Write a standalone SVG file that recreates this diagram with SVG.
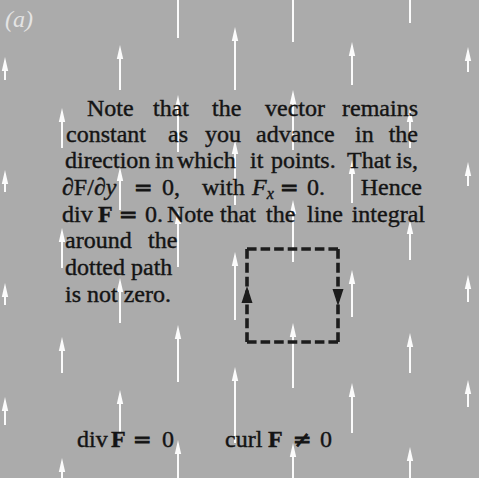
<svg xmlns="http://www.w3.org/2000/svg" width="479" height="478" viewBox="0 0 479 478">
<style>
.t{font-family:"Liberation Serif","Times New Roman",serif;font-size:24px;fill:#141414;stroke:#141414;stroke-width:0.4}
.b{font-weight:bold}
.i{font-style:italic}
.eq{font-family:"DejaVu Serif","Liberation Serif",serif;font-size:22px;stroke-width:1}
.f line,.f path{stroke:#fbfbfb;stroke-width:2;fill:none}
.box path{stroke:#1c1c1c;stroke-width:3.6;fill:none;stroke-linecap:butt}
</style>
<defs>
<marker id="ah" markerUnits="userSpaceOnUse" markerWidth="14" markerHeight="8" viewBox="0 0 14 8" refX="4" refY="4" orient="auto">
<path d="M0,0.8 L14,4 L0,7.2 Z" fill="#fbfbfb"/>
</marker>
</defs>
<rect id="background" x="0" y="0" width="479" height="478" fill="#ababab"/>
<g id="field" class="f" marker-end="url(#ah)">
<path d="M5,80V67"/><path d="M5,192V180"/><path d="M5,305V293"/><path d="M5,425V407"/>
<path d="M62,148V118"/><path d="M62,268V238"/><path d="M62,373V347"/><path d="M62,496V468"/>
<path d="M120,90V55"/><path d="M120,210V177"/><path d="M120,323V288"/><path d="M120,433V400"/>
<path d="M178,38V-10"/><path d="M178,152V105"/><path d="M178,267V220"/><path d="M178,382V335"/><path d="M178,497V450"/>
<path d="M235,90V37"/><path d="M235,205V150"/><path d="M235,320V262"/><path d="M235,443V377"/>
<path d="M293,42V-10"/><path d="M293,150V100"/><path d="M293,262V210"/><path d="M293,388V333"/><path d="M293,505V453"/>
<path d="M352,85V52"/><path d="M352,203V170"/><path d="M352,317V280"/><path d="M352,433V393"/>
<path d="M410,23V-7"/><path d="M410,148V118"/><path d="M410,260V230"/><path d="M410,373V343"/><path d="M410,487V457"/>
<path d="M468,72V57"/><path d="M468,186V172"/><path d="M468,302V285"/><path d="M468,407V390"/>
</g>
<g id="label-a">
<text x="5" y="27" style="font-family:'Liberation Serif',serif;font-style:italic;fill:#e4e4e4;font-size:24px">(a)</text>
</g>
<g id="note-text" class="t">
<text y="116"><tspan x="87">Note</tspan><tspan x="153">that</tspan><tspan x="212">the</tspan><tspan x="265">vector</tspan></text>
<text y="116" x="418" text-anchor="end">remains</text>
<text y="142"><tspan x="66">constant</tspan><tspan x="168">as</tspan><tspan x="205">you</tspan><tspan x="256">advance</tspan><tspan x="355">in</tspan></text>
<text y="142" x="418" text-anchor="end">the</text>
<text y="168"><tspan x="65">direction</tspan><tspan x="155">in</tspan><tspan x="177">which</tspan><tspan x="250">it</tspan><tspan x="271">points.</tspan><tspan x="347">That</tspan></text>
<text y="168" x="418" text-anchor="end">is,</text>
<text y="195"><tspan x="62">∂F/∂</tspan><tspan class="i">y</tspan><tspan x="134" class="eq">=</tspan><tspan x="162">0,</tspan><tspan x="202">with</tspan><tspan x="252" class="i">F</tspan><tspan class="i" font-size="16" dy="4">x</tspan><tspan x="280" dy="-4" class="eq">=</tspan><tspan x="307">0.</tspan></text>
<text y="195" x="422" text-anchor="end">Hence</text>
<text y="222"><tspan x="62">div</tspan><tspan x="98" class="b">F</tspan><tspan x="119" class="eq">=</tspan><tspan x="145">0.</tspan><tspan x="167">Note</tspan><tspan x="220">that</tspan><tspan x="266">the</tspan><tspan x="307">line</tspan></text>
<text y="222" x="425" text-anchor="end">integral</text>
<text y="248"><tspan x="65">around</tspan><tspan x="148">the</tspan></text>
<text y="275" x="65">dotted path</text>
<text y="302" x="65">is not zero.</text>
</g>
<g id="path-loop" class="box">
<path d="M247,249H338" stroke-dasharray="9.57 4"/>
<path d="M338,249V342" stroke-dasharray="9.86 4"/>
<path d="M338,342H247" stroke-dasharray="9.57 4"/>
<path d="M247,342V249" stroke-dasharray="9.86 4"/>
<polygon points="247,286 252.5,303 241.5,303" fill="#1c1c1c"/>
<polygon points="338,306 343.5,289 332.5,289" fill="#1c1c1c"/>
</g>
<g id="result-div" class="t">
<text y="447"><tspan x="77">div</tspan><tspan x="111" class="b">F</tspan><tspan x="133" class="eq">=</tspan><tspan x="162">0</tspan></text>
</g>
<g id="result-curl" class="t">
<text y="447"><tspan x="225">curl</tspan><tspan x="268" class="b">F</tspan><tspan x="293" class="eq">≠</tspan><tspan x="320">0</tspan></text>
</g>
</svg>
